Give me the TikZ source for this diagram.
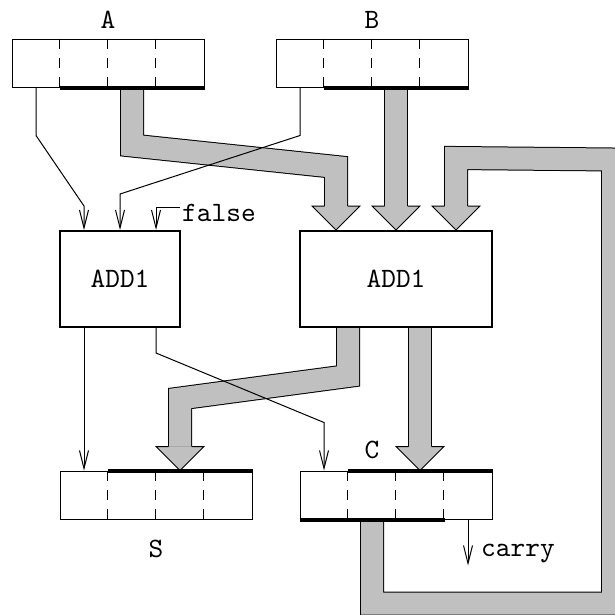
\documentclass[tikz,border=0pt]{standalone}
\usepackage{graphicx}
\usepackage{tikz}
\usetikzlibrary{arrows.meta,backgrounds}
\definecolor{shaftgray}{RGB}{192,192,192}
\newcommand{\ttbig}[1]{\scalebox{2.8}{\ttfamily\fontsize{10}{12}\selectfont #1}}

\begin{document}
\begin{tikzpicture}[x=1pt,y=-1pt]
            \tikzset{
                reg/.style={draw, shape = rectangle, line width=1pt, minimum width=192pt, minimum height=48pt, inner sep=0pt},
                adder/.style={draw, shape = rectangle, line width=2pt, minimum height=96pt, inner sep=0pt},
                lbl/.style={inner sep=0pt},
                wire/.style={line width=1pt, -{Straight Barb[length=18pt,width=9pt]}},
                fat/.style={double=shaftgray, double distance=22pt, line width=1pt},
                bar/.style={line width=4pt},
                divider/.style={line width=1pt, dash pattern=on 10pt off 9pt},
                fat_head/.pic={\filldraw[fill=shaftgray, line width=1pt] (-11.5,0) -- (-24,0) -- (0,24) -- (24,0) -- (11.5,0);}
            }
            \useasboundingbox (0,0) rectangle (615,614);
            \node[reg] (A) at (108,63) {};
            \node[reg] (B) at (372,63) {};
            \node[reg] (S) at (156,495) {};
            \node[reg] (C) at (396,495) {};
            \node[adder, minimum width=120pt] (addL) at (120,279) {\ttbig{ADD1}};
            \node[adder, minimum width=192pt] (addR) at (396,279) {\ttbig{ADD1}};
            \node[lbl, anchor=base] (A_lbl) at (108,28) {\ttbig{A}};
            \node[lbl, anchor=base] (B_lbl) at (372,28) {\ttbig{B}};
            \node[lbl, anchor=base] (S_lbl) at (156,557) {\ttbig{S}};
            \node[lbl, anchor=base] (C_lbl) at (372,458) {\ttbig{C}};
            \node[lbl, anchor=base west] (false_lbl) at (182,221) {\ttbig{false}};
            \node[lbl, anchor=base west] (carry_lbl) at (481,556) {\ttbig{carry}};
            \foreach \r in {A,B,S,C}
                \foreach \i in {1,2,3}
                    \draw[divider] ([xshift=\i*48pt]\r.north west) -- ([xshift=\i*48pt]\r.south west);
            \coordinate (A_out1) at ([xshift=-72pt]A.south);
            \coordinate (A_fat) at ([xshift=24pt]A.south);
            \coordinate (B_out1) at ([xshift=-72pt]B.south);
            \coordinate (B_fat) at ([xshift=24pt]B.south);
            \coordinate (addL_in1) at ([xshift=-36pt]addL.north);
            \coordinate (addL_in2) at (addL.north);
            \coordinate (addL_in3) at ([xshift=36pt]addL.north);
            \coordinate (addL_out1) at ([xshift=-36pt]addL.south);
            \coordinate (addL_out2) at ([xshift=36pt]addL.south);
            \coordinate (addR_in1) at ([xshift=-60pt]addR.north);
            \coordinate (addR_in2) at (addR.north);
            \coordinate (addR_in3) at ([xshift=60pt]addR.north);
            \coordinate (addR_out1) at ([xshift=-48pt]addR.south);
            \coordinate (addR_out2) at ([xshift=24pt]addR.south);
            \coordinate (S_in1) at ([xshift=-72pt]S.north);
            \coordinate (S_fat) at ([xshift=24pt]S.north);
            \coordinate (C_in1) at ([xshift=-72pt]C.north);
            \coordinate (C_fat_in) at ([xshift=24pt]C.north);
            \coordinate (C_fat_out) at ([xshift=-24pt]C.south);
            \coordinate (C_carry) at ([xshift=72pt]C.south);
            \coordinate (carry_end) at ([yshift=-46pt]C_carry);
            \coordinate (false_in) at (180,207);
            \begin{pgfonlayer}{background}
                \draw[fat] (A_fat) -- ++(0,58) -- ([yshift=63pt]addR_in1) -- ([yshift=24pt]addR_in1);
                \pic at ([yshift=24pt]addR_in1) {fat_head};
                \draw[fat] (B_fat) -- ([yshift=24pt]addR_in2);
                \pic at ([yshift=24pt]addR_in2) {fat_head};
                \draw[fat] (C_fat_out) -- ++(0,84) -- ++(241,0) -- ++(0,-444) -- ([yshift=72pt]addR_in3) -- ([yshift=24pt]addR_in3);
                \pic at ([yshift=24pt]addR_in3) {fat_head};
                \draw[fat] (addR_out1) -- ++(0,48) -- ([yshift=72pt]S_fat) -- ([yshift=24pt]S_fat);
                \pic at ([yshift=24pt]S_fat) {fat_head};
                \draw[fat] (addR_out2) -- ([yshift=24pt]C_fat_in);
                \pic at ([yshift=24pt]C_fat_in) {fat_head};
            \end{pgfonlayer}
            \draw[bar] ([xshift=48pt]A.south west) -- (A.south east);
            \draw[bar] ([xshift=48pt]B.south west) -- (B.south east);
            \draw[bar] ([xshift=48pt]S.north west) -- (S.north east);
            \draw[bar] ([xshift=48pt]C.north west) -- (C.north east);
            \draw[bar] (C.south west) -- ([xshift=-48pt]C.south east);
            \draw[wire] (A_out1) -- ++(0,48) -- ([yshift=24pt]addL_in1) -- (addL_in1);
            \draw[wire] (B_out1) -- ++(0,48) -- ([yshift=36pt]addL_in2) -- (addL_in2);
            \draw[wire] (false_in) -| (addL_in3);
            \draw[wire] (addL_out1) -- (S_in1);
            \draw[wire] (addL_out2) -- ++(0,25) -- ([yshift=48pt]C_in1) -- (C_in1);
            \draw[wire] (C_carry) -- (carry_end);
        \end{tikzpicture}
\end{document}
